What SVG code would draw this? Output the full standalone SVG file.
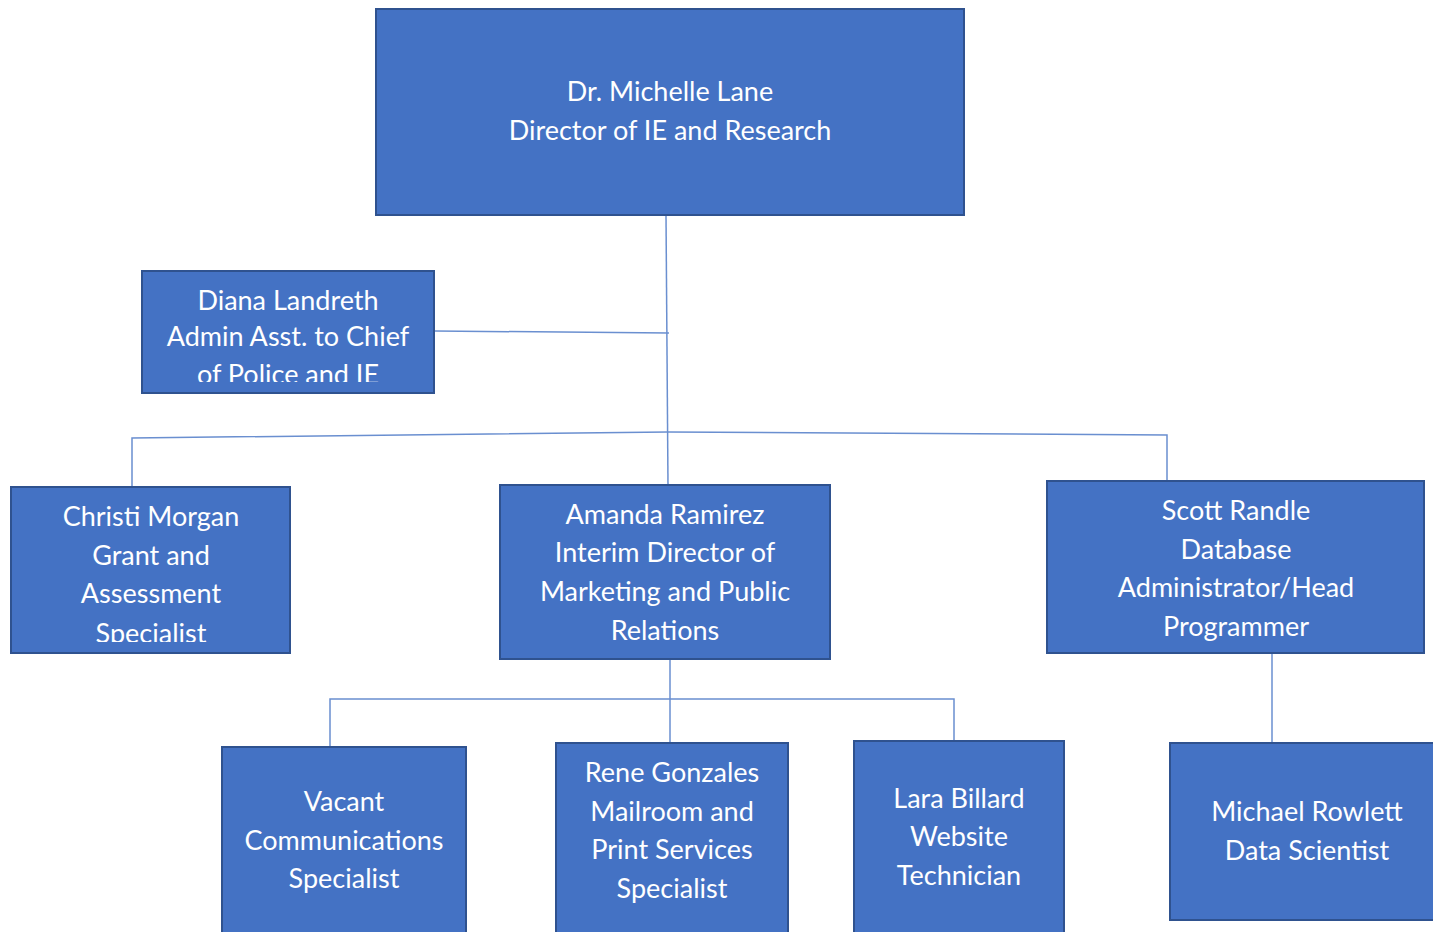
<svg xmlns="http://www.w3.org/2000/svg" width="1433" height="932" viewBox="0 0 1433 932">
<defs>
<style>
.box{fill:#4472C4;stroke:#2F528F;stroke-width:2}
.t{fill:#ffffff;font-family:Lato,"Open Sans",sans-serif;font-size:27px;text-anchor:middle}
.c{fill:none;stroke:#6A8FD0;stroke-width:1.5}
</style>
<clipPath id="cd"><rect x="142" y="271" width="292" height="111"/></clipPath>
<clipPath id="cc"><rect x="11" y="487" width="279" height="155"/></clipPath>
</defs>
<rect width="1433" height="932" fill="#ffffff"/>
<g id="connectors">
<polyline class="c" points="666,215 668,485"/>
<polyline class="c" points="435,331 669,333"/>
<polyline class="c" points="132,487 132,438 668,432 1167,435 1167,481"/>
<polyline class="c" points="670,659 670,743"/>
<polyline class="c" points="330,747 330,699 954,699 954,741"/>
<polyline class="c" points="1272,653 1272,743"/>
</g>
<g id="n-lane">
<rect class="box" x="376" y="9" width="588" height="206"/>
<text class="t" x="670" y="101">Dr. Michelle Lane</text>
<text class="t" x="670" y="140">Director of IE and Research</text>
</g>
<g id="n-landreth">
<rect class="box" x="142" y="271" width="292" height="122"/>
<g clip-path="url(#cd)">
<text class="t" x="288" y="310">Diana Landreth</text>
<text class="t" x="288" y="346">Admin Asst. to Chief</text>
<text class="t" x="288" y="384">of Police and IE</text>
</g>
</g>
<g id="n-morgan">
<rect class="box" x="11" y="487" width="279" height="166"/>
<g clip-path="url(#cc)">
<text class="t" x="151" y="526">Christi Morgan</text>
<text class="t" x="151" y="565">Grant and</text>
<text class="t" x="151" y="603">Assessment</text>
<text class="t" x="151" y="643">Specialist</text>
</g>
</g>
<g id="n-ramirez">
<rect class="box" x="500" y="485" width="330" height="174"/>
<text class="t" x="665" y="524">Amanda Ramirez</text>
<text class="t" x="665" y="562">Interim Director of</text>
<text class="t" x="665" y="601">Marketing and Public</text>
<text class="t" x="665" y="640">Relations</text>
</g>
<g id="n-randle">
<rect class="box" x="1047" y="481" width="377" height="172"/>
<text class="t" x="1236" y="520">Scott Randle</text>
<text class="t" x="1236" y="559">Database</text>
<text class="t" x="1236" y="597">Administrator/Head</text>
<text class="t" x="1236" y="636">Programmer</text>
</g>
<g id="n-vacant">
<rect class="box" x="222" y="747" width="244" height="195"/>
<text class="t" x="344" y="811">Vacant</text>
<text class="t" x="344" y="850">Communications</text>
<text class="t" x="344" y="888">Specialist</text>
</g>
<g id="n-gonzales">
<rect class="box" x="556" y="743" width="232" height="199"/>
<text class="t" x="672" y="782">Rene Gonzales</text>
<text class="t" x="672" y="821">Mailroom and</text>
<text class="t" x="672" y="859">Print Services</text>
<text class="t" x="672" y="898">Specialist</text>
</g>
<g id="n-billard">
<rect class="box" x="854" y="741" width="210" height="201"/>
<text class="t" x="959" y="808">Lara Billard</text>
<text class="t" x="959" y="846">Website</text>
<text class="t" x="959" y="885">Technician</text>
</g>
<g id="n-rowlett">
<rect class="box" x="1170" y="743" width="273" height="177"/>
<text class="t" x="1307" y="821">Michael Rowlett</text>
<text class="t" x="1307" y="860">Data Scientist</text>
</g>
</svg>
